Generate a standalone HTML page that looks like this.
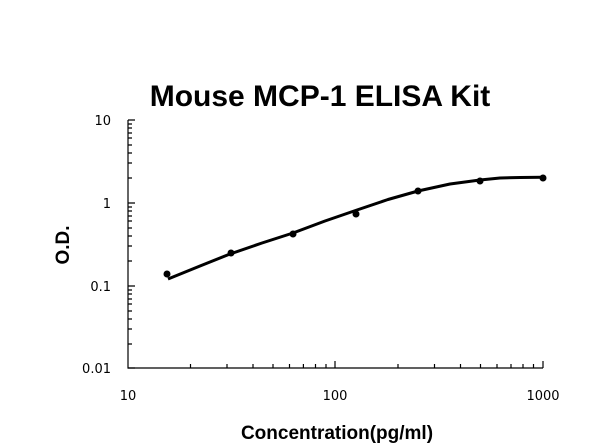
<!DOCTYPE html>
<html><head><style>body{margin:0;background:#fff}svg{display:block}</style></head><body>
<svg width="600" height="447" xmlns="http://www.w3.org/2000/svg">
<rect width="600" height="447" fill="#fff"/>
<text x="320" y="106" text-anchor="middle" font-family="Liberation Sans, sans-serif" font-weight="bold" font-size="30">Mouse MCP-1 ELISA Kit</text>
<g stroke="#000" stroke-width="1.2" fill="none">
<path d="M128 120V368H543"/>
<path d="M128 120h7M128 203h7M128 286h7M128 368h7"/>
<path d="M128 178h4M128 163h4M128 153h4M128 145h4M128 138h4M128 133h4M128 128h4M128 124h4
M128 261h4M128 246h4M128 236h4M128 228h4M128 221h4M128 216h4M128 211h4M128 207h4
M128 344h4M128 329h4M128 319h4M128 311h4M128 304h4M128 299h4M128 294h4M128 290h4"/>
<path d="M335 368v-7M543 368v-7"/>
<path d="M190.5 368v-4M227 368v-4M253 368v-4M273 368v-4M289.5 368v-4M303.4 368v-4M315.5 368v-4M326 368v-4
M398 368v-4M434.5 368v-4M460.5 368v-4M480.5 368v-4M497 368v-4M511 368v-4M523 368v-4M533.5 368v-4"/>
</g>
<path d="M168 279L200 266L230 254L262 243L293 233L325 221L357 210L388 199.5L418 191L450 184L480 180L500 178L520 177.5L543 177.3" stroke="#000" stroke-width="3" fill="none" stroke-linejoin="round"/>
<g fill="#000">
<circle cx="167" cy="274" r="3.5"/><circle cx="231" cy="253" r="3.5"/><circle cx="293" cy="234" r="3.5"/>
<circle cx="356" cy="214" r="3.5"/><circle cx="418" cy="191" r="3.5"/><circle cx="480" cy="181" r="3.5"/><circle cx="543" cy="178" r="3.5"/>
</g>
<g font-family="DejaVu Sans, sans-serif" font-size="13" fill="#000">
<text x="111" y="125" text-anchor="end">10</text>
<text x="111" y="208" text-anchor="end">1</text>
<text x="111" y="291" text-anchor="end">0.1</text>
<text x="111" y="373" text-anchor="end">0.01</text>
<text x="128" y="400" text-anchor="middle">10</text>
<text x="335" y="400" text-anchor="middle">100</text>
<text x="543" y="400" text-anchor="middle">1000</text>
</g>
<text x="337" y="439" text-anchor="middle" font-family="Liberation Sans, sans-serif" font-weight="bold" font-size="19">Concentration(pg/ml)</text>
<text transform="translate(69,245) rotate(-90)" text-anchor="middle" font-family="Liberation Sans, sans-serif" font-weight="bold" font-size="19">O.D.</text>
</svg>
</body></html>
